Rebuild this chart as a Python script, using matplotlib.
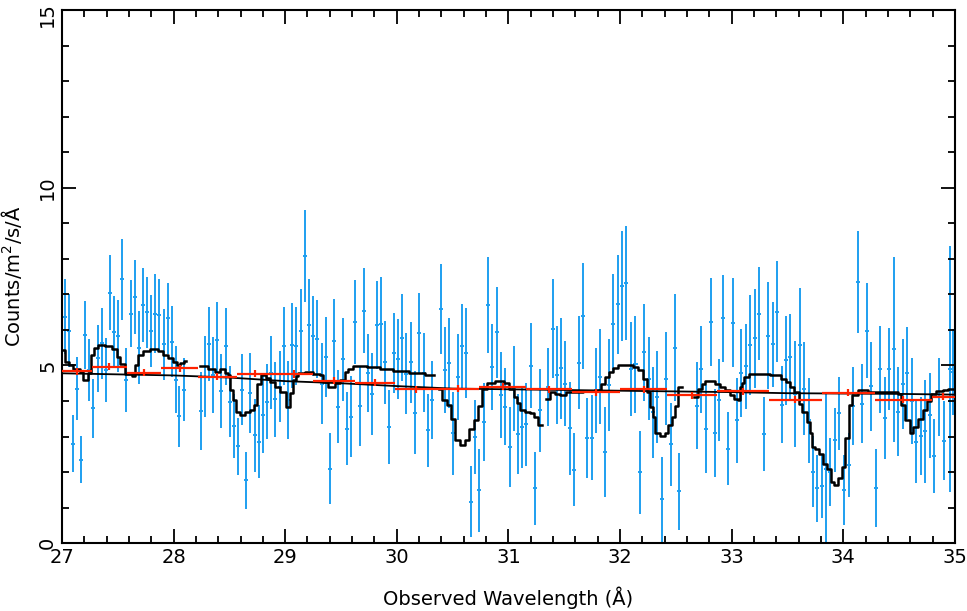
import numpy as np
import matplotlib
matplotlib.use('Agg')
import matplotlib.pyplot as plt
from matplotlib.ticker import MultipleLocator
from matplotlib.transforms import ScaledTranslation

# fine-binned spectrum (blue): wavelength, flux, 1-sigma error
wave = [27.027, 27.063, 27.096, 27.134, 27.170, 27.209, 27.245, 27.281, 27.320, 27.355,
        27.391, 27.430, 27.466, 27.505, 27.541, 27.573, 27.615, 27.654, 27.690, 27.729,
        27.765, 27.800, 27.833, 27.872, 27.911, 27.947, 27.986, 28.019, 28.051, 28.090,
        28.248, 28.284, 28.317, 28.353, 28.389, 28.428, 28.467, 28.502, 28.538, 28.577,
        28.613, 28.652, 28.688, 28.726, 28.762, 28.801, 28.837, 28.876, 28.912, 28.950,
        28.989, 29.025, 29.064, 29.100, 29.139, 29.174, 29.213, 29.252, 29.288, 29.327,
        29.366, 29.401, 29.440, 29.476, 29.515, 29.551, 29.590, 29.628, 29.667, 29.706,
        29.742, 29.781, 29.820, 29.855, 29.894, 29.933, 29.972, 30.008, 30.047, 30.085,
        30.124, 30.163, 30.202, 30.241, 30.280, 30.315, 30.393, 30.429, 30.468, 30.507,
        30.545, 30.584, 30.623, 30.662, 30.701, 30.740, 30.778, 30.817, 30.856, 30.895,
        30.934, 30.972, 31.011, 31.050, 31.086, 31.122, 31.161, 31.203, 31.241, 31.280,
        31.358, 31.397, 31.436, 31.475, 31.510, 31.549, 31.588, 31.630, 31.669, 31.707,
        31.746, 31.785, 31.824, 31.863, 31.901, 31.940, 31.979, 32.018, 32.057, 32.099,
        32.138, 32.176, 32.218, 32.257, 32.296, 32.335, 32.373, 32.415, 32.454, 32.493,
        32.532, 32.690, 32.729, 32.768, 32.810, 32.849, 32.887, 32.926, 32.965, 33.007,
        33.046, 33.087, 33.129, 33.168, 33.207, 33.248, 33.287, 33.326, 33.368, 33.407,
        33.446, 33.487, 33.526, 33.565, 33.610, 33.649, 33.688, 33.730, 33.766, 33.808,
        33.841, 33.883, 33.922, 33.963, 34.002, 34.050, 34.088, 34.127, 34.168, 34.210,
        34.249, 34.288, 34.330, 34.372, 34.410, 34.450, 34.491, 34.533, 34.572, 34.611,
        34.652, 34.691, 34.733, 34.772, 34.814, 34.856, 34.897, 34.951, 34.984]
flux = [6.37, 5.98, 2.80, 4.35, 2.35, 5.85, 4.87, 3.79, 5.20, 5.62,
        4.87, 7.05, 5.95, 5.83, 7.42, 4.60, 6.46, 6.93, 5.50, 6.70,
        6.50, 5.98, 6.46, 6.42, 5.60, 6.33, 5.67, 4.60, 3.57, 4.32,
        3.71, 4.68, 5.60, 4.73, 5.71, 4.28, 5.54, 3.98, 3.30, 2.73,
        4.32, 1.77, 4.23, 3.04, 2.85, 3.62, 3.98, 4.80, 4.05, 4.40,
        5.55, 4.02, 5.57, 5.55, 5.98, 8.08, 6.14, 5.83, 5.75, 4.49,
        5.24, 2.10, 5.68, 3.84, 5.17, 3.22, 3.56, 6.22, 3.86, 6.54,
        4.79, 4.19, 6.14, 6.18, 5.09, 3.27, 5.36, 5.19, 5.78, 4.77,
        5.09, 3.67, 5.90, 4.80, 3.18, 4.02, 6.58, 4.87, 5.07, 3.09,
        4.68, 5.54, 5.36, 1.16, 2.99, 1.49, 3.41, 6.70, 4.96, 5.94,
        4.17, 3.84, 2.71, 4.35, 3.07, 3.27, 3.34, 4.99, 1.54, 3.74,
        4.40, 6.04, 4.73, 4.92, 4.49, 3.23, 2.07, 5.08, 6.39, 2.95,
        2.97, 4.30, 4.68, 2.57, 4.45, 6.18, 6.72, 7.24, 7.33, 4.89,
        5.03, 1.99, 5.37, 4.63, 3.68, 4.12, 1.23, 4.63, 2.78, 5.50,
        1.46, 3.87, 4.89, 3.22, 6.22, 3.10, 4.02, 6.33, 2.66, 6.20,
        3.46, 4.79, 4.98, 5.57, 5.76, 6.46, 3.07, 5.84, 5.60, 6.51,
        3.90, 5.15, 5.24, 4.20, 5.57, 4.35, 3.46, 2.01, 1.54, 1.60,
        2.10, 2.00, 2.90, 3.65, 1.49, 2.20, 3.86, 7.34, 3.93, 5.98,
        4.42, 1.56, 4.89, 3.53, 4.90, 5.46, 3.70, 4.47, 4.79, 4.00,
        2.84, 3.01, 3.15, 3.60, 2.45, 4.11, 2.88, 4.90, 4.82]
err = [1.05, 1.03, 0.80, 0.89, 0.67, 0.96, 0.88, 0.83, 0.95, 0.99,
       0.89, 1.05, 1.00, 1.00, 1.14, 0.90, 0.95, 1.04, 1.03, 1.04,
       1.00, 1.01, 1.10, 1.00, 1.00, 1.00, 1.00, 0.95, 0.85, 0.89,
       1.10, 1.14, 1.05, 1.07, 1.09, 1.05, 1.08, 1.00, 0.90, 0.80,
       1.00, 0.80, 1.13, 1.03, 1.03, 1.08, 1.05, 1.03, 1.05, 1.00,
       1.10, 1.10, 1.20, 1.10, 1.16, 1.29, 1.29, 1.13, 1.10, 1.15,
       1.13, 0.99, 1.20, 1.03, 1.17, 1.03, 1.13, 1.18, 1.13, 1.20,
       1.10, 1.15, 1.25, 1.30, 1.16, 1.03, 1.13, 1.12, 1.23, 1.14,
       1.14, 1.17, 1.13, 1.10, 1.03, 1.10, 1.27, 1.20, 1.27, 1.17,
       1.20, 1.20, 1.27, 1.00, 1.03, 1.17, 1.10, 1.35, 1.20, 1.28,
       1.20, 1.08, 1.12, 1.20, 1.13, 1.15, 1.16, 1.20, 1.03, 1.17,
       1.10, 1.40, 1.38, 1.43, 1.20, 1.30, 1.03, 1.31, 1.50, 1.13,
       1.20, 1.20, 1.34, 1.27, 1.29, 1.40, 1.40, 1.54, 1.60, 1.32,
       1.37, 1.16, 1.36, 1.17, 1.29, 1.30, 1.19, 1.30, 1.17, 1.50,
       1.08, 1.23, 1.22, 1.24, 1.23, 1.23, 1.15, 1.22, 1.02, 1.25,
       1.20, 1.25, 1.20, 1.40, 1.40, 1.30, 1.03, 1.50, 1.20, 1.42,
       1.08, 1.25, 1.20, 1.50, 1.60, 1.30, 1.20, 1.00, 0.95, 0.90,
       2.15, 0.96, 0.90, 1.03, 0.98, 0.90, 1.10, 1.43, 1.10, 1.34,
       1.25, 1.10, 1.22, 1.15, 1.15, 2.60, 1.25, 1.27, 1.30, 1.20,
       1.15, 1.10, 1.45, 1.20, 1.05, 1.10, 1.11, 3.45, 1.20]
half_bin = 0.018

# coarse-binned spectrum (red)
red_lo = [27.00, 27.27, 27.58, 27.89, 28.22, 28.565, 28.90, 29.25, 29.625, 29.98,
          30.36, 30.74, 31.16, 31.565, 32.00, 32.42, 32.866, 33.33, 33.81, 34.28, 34.79]
red_hi = [27.27, 27.58, 27.89, 28.22, 28.565, 28.90, 29.25, 29.625, 29.98, 30.36,
          30.74, 31.16, 31.565, 32.00, 32.42, 32.866, 33.33, 33.81, 34.28, 34.79, 35.00]
red_val = [4.84, 4.96, 4.79, 4.92, 4.68, 4.77, 4.76, 4.57, 4.52, 4.33,
           4.35, 4.40, 4.33, 4.24, 4.33, 4.16, 4.27, 4.04, 4.23, 4.04, 4.12]
red_err = 0.1

# model with line features (black steps), segments split at the chip gaps
model_segments = [
    ([27.00, 27.03, 27.06, 27.10, 27.16, 27.19, 27.23, 27.26, 27.29, 27.325, 27.385,
      27.445, 27.49, 27.52, 27.564, 27.624, 27.654, 27.684, 27.729, 27.788, 27.863,
      27.908, 27.953, 27.997, 28.03, 28.06, 28.09, 28.115],
     [5.43, 5.10, 5.00, 4.90, 4.82, 4.60, 4.80, 5.30, 5.50, 5.57, 5.55,
      5.45, 5.25, 5.05, 4.75, 4.70, 5.00, 5.30, 5.40, 5.45, 5.40,
      5.30, 5.20, 5.10, 5.00, 5.08, 5.12, 5.12]),
    ([28.234, 28.305, 28.368, 28.413, 28.458, 28.487, 28.502, 28.532, 28.562, 28.592,
      28.637, 28.682, 28.72, 28.75, 28.78, 28.831, 28.861, 28.906, 28.955, 29.005,
      29.045, 29.07, 29.095, 29.118, 29.177, 29.252, 29.312, 29.342, 29.386, 29.446,
      29.491, 29.536, 29.566, 29.611, 29.73, 29.849, 29.969, 30.106, 30.256, 30.33],
     [4.99, 4.90, 4.82, 4.90, 4.80, 4.73, 4.30, 4.02, 3.70, 3.60,
      3.70, 3.75, 3.88, 4.49, 4.73, 4.64, 4.54, 4.40, 4.24, 3.84,
      4.23, 4.59, 4.70, 4.79, 4.82, 4.75, 4.73, 4.54, 4.40, 4.50,
      4.59, 4.82, 4.89, 4.99, 4.95, 4.90, 4.84, 4.80, 4.73, 4.73]),
    ([30.375, 30.405, 30.45, 30.489, 30.524, 30.569, 30.608, 30.65, 30.689, 30.728,
      30.764, 30.809, 30.884, 30.958, 31.002, 31.047, 31.075, 31.10, 31.145, 31.19,
      31.226, 31.265, 31.30],
     [4.35, 4.02, 3.88, 3.50, 2.90, 2.76, 2.90, 3.20, 3.46, 3.86,
      4.35, 4.50, 4.56, 4.50, 4.35, 4.12, 3.95, 3.74, 3.70, 3.67,
      3.56, 3.32, 3.32]),
    ([31.34, 31.37, 31.415, 31.46, 31.519, 31.669, 31.803, 31.833, 31.863, 31.901,
      31.937, 31.982, 32.06, 32.12, 32.164, 32.209, 32.239, 32.269, 32.299, 32.314,
      32.358, 32.403, 32.433, 32.468, 32.493, 32.517, 32.553],
     [4.07, 4.24, 4.20, 4.17, 4.24, 4.29, 4.32, 4.49, 4.68, 4.82,
      4.94, 5.01, 5.02, 4.97, 4.87, 4.63, 4.26, 3.84, 3.56, 3.09,
      3.01, 3.10, 3.32, 3.56, 3.86, 4.40, 4.40]),
    ([32.666, 32.702, 32.731, 32.761, 32.851, 32.896, 32.941, 32.985, 33.02, 33.055,
      33.072, 33.093, 33.108, 33.153, 33.228, 33.347, 33.437, 33.482, 33.526, 33.556,
      33.601, 33.631, 33.67, 33.70, 33.72, 33.75, 33.78, 33.819, 33.849, 33.885,
      33.915, 33.953, 33.989, 34.019, 34.049, 34.075, 34.133, 34.222, 34.461, 34.491,
      34.52, 34.55, 34.594, 34.624, 34.669, 34.714, 34.753, 34.789, 34.833, 34.893,
      34.935, 35.00],
     [4.12, 4.35, 4.49, 4.56, 4.49, 4.40, 4.30, 4.17, 4.07, 4.02,
      4.40, 4.50, 4.68, 4.75, 4.77, 4.73, 4.63, 4.54, 4.40, 4.26,
      3.93, 3.70, 3.41, 3.11, 2.71, 2.64, 2.52, 2.24, 2.10, 1.73,
      1.65, 1.82, 2.15, 2.95, 3.88, 4.17, 4.32, 4.26, 4.26, 4.19,
      3.88, 3.46, 3.10, 3.27, 3.50, 3.74, 4.00, 4.19, 4.27, 4.30,
      4.33, 4.33]),
]

# continuum only (thin black)
cont_wave = [27.0, 28.0, 28.5, 29.0, 29.5, 30.0, 30.5, 31.0, 31.5, 32.0,
             32.5, 33.0, 33.5, 34.0, 34.5, 35.0]
cont_val = [4.78, 4.72, 4.66, 4.56, 4.50, 4.42, 4.35, 4.33, 4.31, 4.29,
            4.27, 4.25, 4.22, 4.21, 4.20, 4.18]

yticks = [0, 5, 10, 15]

blue = '#1e9ff0'
red = '#ff2200'

fig = plt.figure(figsize=(9.67, 6.11), dpi=100)
ax = fig.add_axes([0.064, 0.111, 0.9236, 0.8725])

ax.errorbar(wave, flux, yerr=err, xerr=half_bin, fmt='none', ecolor=blue,
            elinewidth=1.4, capsize=0, zorder=1)

ax.plot(cont_wave, cont_val, color='black', lw=1.3, zorder=2)

for mw, mv in model_segments:
    ax.step(mw, mv, where='post', color='black', lw=1.8, zorder=3)

red_mid = [(a + b) / 2 for a, b in zip(red_lo, red_hi)]
red_xerr = [(b - a) / 2 for a, b in zip(red_lo, red_hi)]
ax.errorbar(red_mid, red_val, xerr=red_xerr, yerr=red_err, fmt='none',
            ecolor=red, elinewidth=1.6, capsize=0, zorder=4)

ax.set_xlim(27, 35)
ax.set_ylim(0, 15)
ax.xaxis.set_major_locator(MultipleLocator(1))
ax.xaxis.set_minor_locator(MultipleLocator(0.2))
ax.set_yticks(yticks)
ax.yaxis.set_minor_locator(MultipleLocator(1))
ax.tick_params(which='both', direction='in', top=True, right=True, width=1.3,
               labelsize=14)
ax.tick_params(which='major', length=10)
ax.tick_params(which='minor', length=5)
# y labels rotated like the original; the top one ("15") nudged down to fit
ylabs = ax.get_yticklabels()
for lab in ylabs:
    lab.set_rotation(90)
    lab.set_va('center')
ylabs[-1].set_transform(ylabs[-1].get_transform() +
                        ScaledTranslation(0, -3 / 72, fig.dpi_scale_trans))
for s in ax.spines.values():
    s.set_linewidth(1.5)

ax.set_xlabel('Observed Wavelength (Å)', fontsize=14, labelpad=14)
ax.set_ylabel('Counts/m$^2$/s/Å', fontsize=14, labelpad=10)

fig.savefig('out.png', dpi=100)
